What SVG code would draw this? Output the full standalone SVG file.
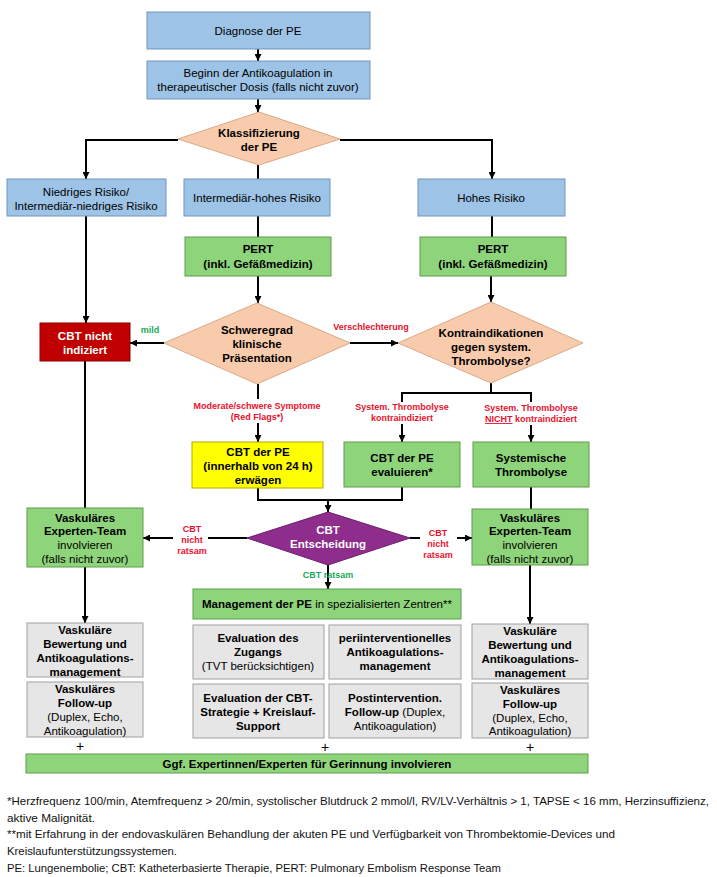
<svg xmlns="http://www.w3.org/2000/svg" width="717" height="877" viewBox="0 0 717 877">
<style>
text{font-family:"Liberation Sans",Arial,sans-serif;font-size:11.5px;fill:#000;text-anchor:middle}
.b{font-weight:bold}
.w{fill:#fff;font-weight:bold}
.r{fill:#E8112D;font-weight:bold;font-size:9px}
.g{fill:#1BAA5A;font-weight:bold;font-size:9px}
.fn{font-family:"Liberation Sans",Arial,sans-serif;font-size:11px;text-anchor:start;fill:#111}
.pl{font-size:14px}
.blue{fill:#9DC3E6;stroke:#7396BC;stroke-width:1}
.green{fill:#8ED47A;stroke:#5E9C4C;stroke-width:1}
.peach{fill:#F8CBAD;stroke:#D9A98A;stroke-width:1}
.gray{fill:#E7E6E6;stroke:#A0A0A0;stroke-width:1}
.yellow{fill:#FFFF00;stroke:#B8A800;stroke-width:1}
.dred{fill:#C00000;stroke:#8E0000;stroke-width:1}
.purple{fill:#8E2D8C;stroke:#6E1F6C;stroke-width:1}
.c{fill:none;stroke:#000;stroke-width:2}
.ca{fill:none;stroke:#000;stroke-width:2;marker-end:url(#ah)}
</style>
<defs>
<marker id="ah" viewBox="0 0 10 10" refX="10" refY="5" markerWidth="3.5" markerHeight="3.5" orient="auto"><path d="M0,0 L10,5 L0,10 z" fill="#000"/></marker>
</defs>
<rect width="717" height="877" fill="#fff"/>

<g id="connectors">
<path class="ca" d="M258,49 V61"/>
<path class="ca" d="M258,99 V112"/>
<path class="ca" d="M178,140 H86 V179"/>
<path class="ca" d="M340,140 H492 V179"/>
<path class="c" d="M258,165 V179"/>
<path class="c" d="M258,216 V237"/>
<path class="ca" d="M258,276 V303"/>
<path class="c" d="M492,216 V237"/>
<path class="ca" d="M491,276 V302"/>
<path class="ca" d="M86,216 V323"/>
<path class="ca" d="M164,343 H130"/>
<path class="ca" d="M350,343 H398"/>
<path class="c" d="M491,383 V393"/>
<path class="c" d="M402,402 V393 H531 V402"/>
<path class="ca" d="M402,424 V442"/>
<path class="ca" d="M531,425 V442"/>
<path class="c" d="M258,384 V399"/>
<path class="ca" d="M258,423 V442"/>
<path class="c" d="M258,488 V500 H402 V487"/>
<path class="ca" d="M328,500 V512"/>
<path class="c" d="M85,361 V508"/>
<path class="c" d="M531,487 V509"/>
<path class="c" d="M247,538 H208"/>
<path class="ca" d="M173,538 H143"/>
<path class="c" d="M410,538 H420"/>
<path class="ca" d="M457,538 H472"/>
<path class="ca" d="M328,565 V589"/>
<path class="ca" d="M85,567 V623"/>
<path class="ca" d="M530,565 V624"/>
</g>

<g id="edge-labels">
<text class="g" x="150" y="333">mild</text>
<text class="r" x="371" y="330">Verschlechterung</text>
<text class="r" x="257" y="409">Moderate/schwere  Symptome</text>
<text class="r" x="257" y="420">(Red Flags*)</text>
<text class="r" x="402" y="410">System.  Thrombolyse</text>
<text class="r" x="402" y="421">kontraindiziert</text>
<text class="r" x="531" y="411">System.  Thrombolyse</text>
<text class="r" x="531" y="422"><tspan text-decoration="underline">NICHT</tspan> kontraindiziert</text>
<text class="r" x="192" y="532">CBT</text>
<text class="r" x="192" y="543">nicht</text>
<text class="r" x="192" y="554">ratsam</text>
<text class="r" x="438" y="536">CBT</text>
<text class="r" x="438" y="547">nicht</text>
<text class="r" x="438" y="558">ratsam</text>
<text class="g" x="328" y="578">CBT ratsam</text>
</g>

<g id="diagnose">
<rect class="blue" x="147" y="12" width="223" height="37"/>
<text x="258" y="35">Diagnose der PE</text>
</g>
<g id="antikoagulation">
<rect class="blue" x="147" y="61" width="223" height="38"/>
<text x="258" y="77">Beginn der Antikoagulation in</text>
<text x="258" y="91">therapeutischer Dosis (falls nicht zuvor)</text>
</g>
<g id="klassifizierung">
<polygon class="peach" points="259,112 340,139 259,165 178,139"/>
<text class="b" x="259" y="137">Klassifizierung</text>
<text class="b" x="259" y="151">der PE</text>
</g>
<g id="niedriges-risiko">
<rect class="blue" x="7" y="179" width="159" height="37"/>
<text x="86" y="196">Niedriges Risiko/</text>
<text x="86" y="210">Intermediär-niedriges Risiko</text>
</g>
<g id="intermediaer-hohes-risiko">
<rect class="blue" x="184" y="179" width="146" height="37"/>
<text x="257" y="202">Intermediär-hohes Risiko</text>
</g>
<g id="hohes-risiko">
<rect class="blue" x="418" y="179" width="147" height="37"/>
<text x="491" y="202">Hohes Risiko</text>
</g>
<g id="pert-mid">
<rect class="green" x="185" y="237" width="146" height="39"/>
<text class="b" x="258" y="253">PERT</text>
<text class="b" x="258" y="268">(inkl. Gefäßmedizin)</text>
</g>
<g id="pert-right">
<rect class="green" x="420" y="237" width="146" height="39"/>
<text class="b" x="493" y="253">PERT</text>
<text class="b" x="493" y="268">(inkl. Gefäßmedizin)</text>
</g>
<g id="cbt-nicht-indiziert">
<rect class="dred" x="40" y="323" width="90" height="38"/>
<text class="w" x="85" y="340">CBT nicht</text>
<text class="w" x="85" y="354">indiziert</text>
</g>
<g id="schweregrad">
<polygon class="peach" points="257,303 350,343 257,384 164,343"/>
<text class="b" x="257" y="334">Schweregrad</text>
<text class="b" x="257" y="348">klinische</text>
<text class="b" x="257" y="362">Präsentation</text>
</g>
<g id="kontraindikationen">
<polygon class="peach" points="491,302 583,343 491,383 398,343"/>
<text class="b" x="491" y="337">Kontraindikationen</text>
<text class="b" x="491" y="351">gegen system.</text>
<text class="b" x="491" y="365">Thrombolyse?</text>
</g>
<g id="cbt-erwaegen">
<rect class="yellow" x="192" y="442" width="131" height="46"/>
<text class="b" x="258" y="456">CBT der PE</text>
<text class="b" x="258" y="470">(innerhalb von 24 h)</text>
<text class="b" x="258" y="484">erwägen</text>
</g>
<g id="cbt-evaluieren">
<rect class="green" x="344" y="442" width="116" height="45"/>
<text class="b" x="402" y="462">CBT der PE</text>
<text class="b" x="402" y="476">evaluieren*</text>
</g>
<g id="systemische-thrombolyse">
<rect class="green" x="473" y="442" width="116" height="45"/>
<text class="b" x="531" y="462">Systemische</text>
<text class="b" x="531" y="476">Thrombolyse</text>
</g>
<g id="cbt-entscheidung">
<polygon class="purple" points="328,512 410,538 328,565 247,538"/>
<text class="w" x="328" y="534">CBT</text>
<text class="w" x="328" y="548">Entscheidung</text>
</g>
<g id="experten-team-left">
<rect class="green" x="27" y="508" width="116" height="59"/>
<text class="b" x="85" y="522">Vaskuläres</text>
<text class="b" x="85" y="535">Experten-Team</text>
<text x="85" y="549">involvieren</text>
<text x="85" y="563">(falls nicht zuvor)</text>
</g>
<g id="experten-team-right">
<rect class="green" x="472" y="509" width="116" height="56"/>
<text class="b" x="530" y="522">Vaskuläres</text>
<text class="b" x="530" y="535">Experten-Team</text>
<text x="530" y="549">involvieren</text>
<text x="530" y="563">(falls nicht zuvor)</text>
</g>
<g id="management">
<rect class="green" x="193" y="589" width="268" height="30"/>
<text x="327" y="608"><tspan class="b">Management der PE</tspan> in spezialisierten Zentren**</text>
</g>
<g id="evaluation-zugang">
<rect class="gray" x="193" y="625" width="131" height="54"/>
<text class="b" x="258" y="642">Evaluation des</text>
<text class="b" x="258" y="656">Zugangs</text>
<text x="258" y="670">(TVT berücksichtigen)</text>
</g>
<g id="periinterventionell">
<rect class="gray" x="329" y="625" width="132" height="54"/>
<text class="b" x="395" y="642">periinterventionelles</text>
<text class="b" x="395" y="656">Antikoagulations-</text>
<text class="b" x="395" y="670">management</text>
</g>
<g id="evaluation-strategie">
<rect class="gray" x="193" y="684" width="131" height="54"/>
<text class="b" x="258" y="702">Evaluation der CBT-</text>
<text class="b" x="258" y="716">Strategie + Kreislauf-</text>
<text class="b" x="258" y="730">Support</text>
</g>
<g id="postintervention">
<rect class="gray" x="329" y="684" width="132" height="54"/>
<text class="b" x="395" y="702">Postintervention.</text>
<text x="395" y="716"><tspan class="b">Follow-up</tspan> (Duplex,</text>
<text x="395" y="730">Antikoagulation)</text>
</g>
<g id="bewertung-left">
<rect class="gray" x="27" y="623" width="116" height="54"/>
<text class="b" x="85" y="634">Vaskuläre</text>
<text class="b" x="85" y="648">Bewertung und</text>
<text class="b" x="85" y="662">Antikoagulations-</text>
<text class="b" x="85" y="676">management</text>
</g>
<g id="followup-left">
<rect class="gray" x="27" y="682" width="116" height="55"/>
<text class="b" x="85" y="693">Vaskuläres</text>
<text class="b" x="85" y="707">Follow-up</text>
<text x="85" y="721">(Duplex, Echo,</text>
<text x="85" y="735">Antikoagulation)</text>
</g>
<g id="bewertung-right">
<rect class="gray" x="472" y="624" width="116" height="55"/>
<text class="b" x="530" y="635">Vaskuläre</text>
<text class="b" x="530" y="649">Bewertung und</text>
<text class="b" x="530" y="663">Antikoagulations-</text>
<text class="b" x="530" y="677">management</text>
</g>
<g id="followup-right">
<rect class="gray" x="472" y="683" width="116" height="55"/>
<text class="b" x="530" y="694">Vaskuläres</text>
<text class="b" x="530" y="708">Follow-up</text>
<text x="530" y="722">(Duplex, Echo,</text>
<text x="530" y="735">Antikoagulation)</text>
</g>
<g id="plus-signs">
<text class="pl" x="80" y="751">+</text>
<text class="pl" x="325" y="752">+</text>
<text class="pl" x="530" y="752">+</text>
</g>
<g id="gerinnung">
<rect class="green" x="26" y="754" width="562" height="19"/>
<text class="b" x="307" y="768">Ggf. Expertinnen/Experten für Gerinnung involvieren</text>
</g>

<g id="footnotes">
<text class="fn" x="7" y="805" textLength="702" lengthAdjust="spacingAndGlyphs">*Herzfrequenz 100/min, Atemfrequenz &gt; 20/min, systolischer Blutdruck 2 mmol/l, RV/LV-Verhältnis &gt; 1, TAPSE &lt; 16 mm, Herzinsuffizienz,</text>
<text class="fn" x="7" y="822" textLength="88" lengthAdjust="spacingAndGlyphs">aktive Malignität.</text>
<text class="fn" x="7" y="838" textLength="608" lengthAdjust="spacingAndGlyphs">**mit Erfahrung in der endovaskulären Behandlung der akuten PE und Verfügbarkeit von Thrombektomie-Devices und</text>
<text class="fn" x="7" y="855" textLength="170" lengthAdjust="spacingAndGlyphs">Kreislaufunterstützungssystemen.</text>
<text class="fn" x="7" y="872" textLength="494" lengthAdjust="spacingAndGlyphs">PE: Lungenembolie; CBT: Katheterbasierte Therapie, PERT: Pulmonary Embolism Response Team</text>
</g>
</svg>
